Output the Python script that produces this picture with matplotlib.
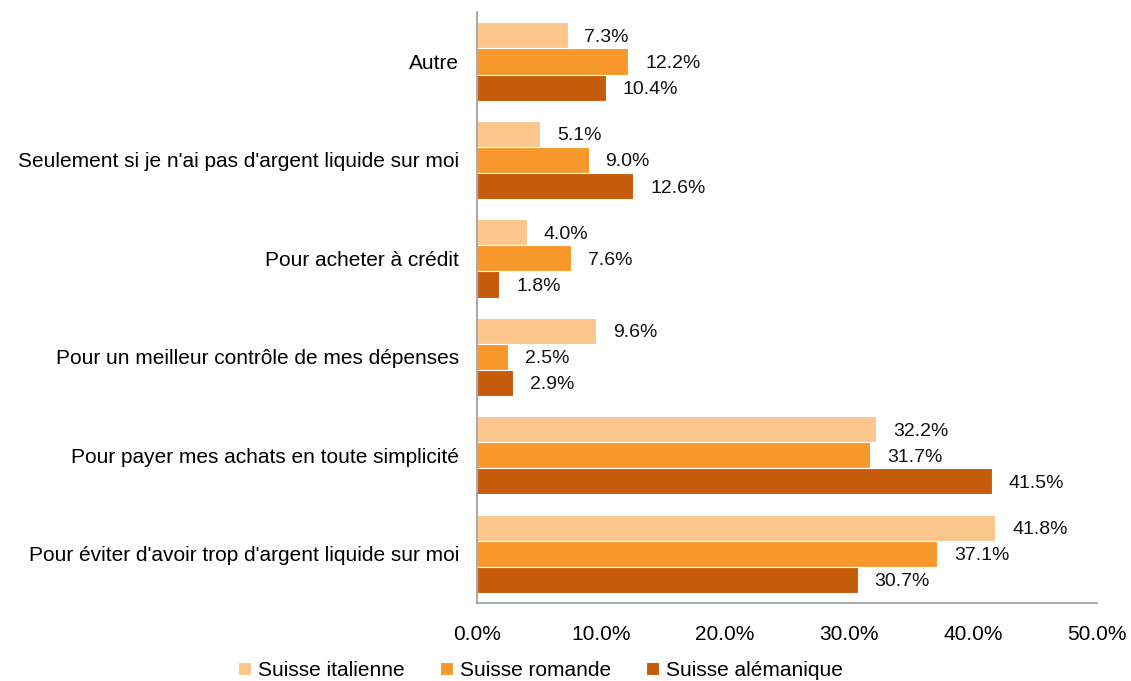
import matplotlib.pyplot as plt
import numpy as np

plt.rcParams['font.family'] = ['Liberation Sans', 'DejaVu Sans']

categories = [
    "Pour éviter d'avoir trop d'argent liquide sur moi",
    "Pour payer mes achats en toute simplicité",
    "Pour un meilleur contrôle de mes dépenses",
    "Pour acheter à crédit",
    "Seulement si je n'ai pas d'argent liquide sur moi",
    "Autre",
]
series_names = ["Suisse italienne", "Suisse romande", "Suisse alémanique"]
italienne = [41.8, 32.2, 9.6, 4.0, 5.1, 7.3]
romande = [37.1, 31.7, 2.5, 7.6, 9.0, 12.2]
alemanique = [30.7, 41.5, 2.9, 1.8, 12.6, 10.4]
colors = ["#FBC68C", "#F7972C", "#C55B0B"]

fig = plt.figure(figsize=(11.31, 6.81), dpi=100)
ax = fig.add_axes([0.4218, 0.1145, 0.5482, 0.8675])

y = np.arange(len(categories))
h = 0.265
for i, (vals, name, c) in enumerate(zip([italienne, romande, alemanique], series_names, colors)):
    pos = y + (1 - i) * h
    ax.barh(pos, vals, height=h, color=c, edgecolor='white', linewidth=0.8, label=name)
    for yy, v in zip(pos, vals):
        ax.text(v + 1.35, yy - 0.02, f"{v:.1f}%", va='center', ha='left', fontsize=14, color='#111111')

ax.set_xlim(0, 50)
ax.set_ylim(-0.5, len(categories) - 0.5)
ax.set_yticks(y)
ax.set_yticklabels(categories, fontsize=15)
ax.set_xticks(np.arange(0, 51, 10))
ax.set_xticklabels([f"{t:.1f}%" for t in np.arange(0, 51, 10)], fontsize=15)
ax.tick_params(axis='y', length=0, pad=13)
ax.tick_params(axis='x', length=0, pad=16)
for s in ['top', 'right']:
    ax.spines[s].set_visible(False)
for s in ['left', 'bottom']:
    ax.spines[s].set_color('#999999')
    ax.spines[s].set_linewidth(1.2)

ax.legend(loc='lower center', bbox_to_anchor=(0.478, -0.026), bbox_transform=fig.transFigure,
          ncol=3, frameon=False, fontsize=15, handlelength=0.6, handleheight=0.6,
          handletextpad=0.35, columnspacing=1.7)

fig.savefig('out.png', dpi=100)
